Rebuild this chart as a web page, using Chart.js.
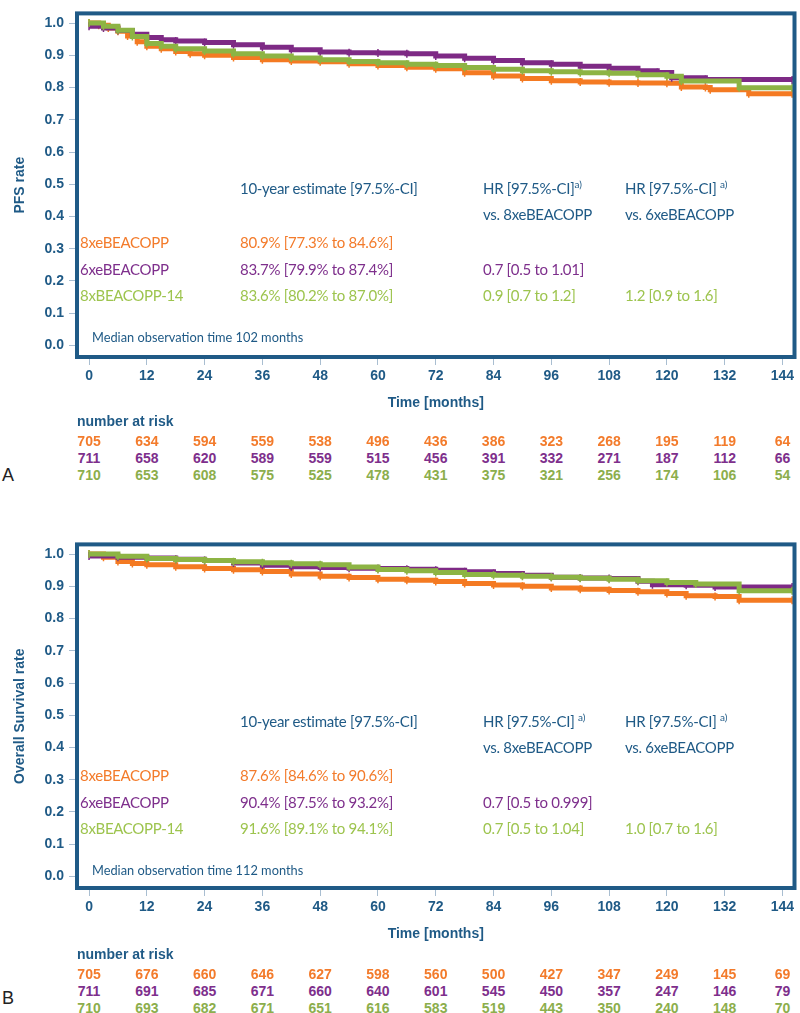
<!DOCTYPE html>
<html><head><meta charset="utf-8">
<script src="https://cdn.jsdelivr.net/npm/chart.js@4.4.0/dist/chart.umd.min.js"></script>
<style>
body{margin:0;width:800px;height:1013px;position:relative;background:#fff;overflow:hidden;font-family:"Liberation Sans",Arial,sans-serif}
canvas{position:absolute;left:0}
.t{position:absolute;white-space:nowrap;line-height:1;transform:translateY(-50%)}
.leg{font-family:Lato,"Open Sans",sans-serif;font-size:15px;letter-spacing:-0.3px}
.nr{font-weight:bold;font-size:14px;transform:translate(-50%,-50%)}
sup{font-size:10px;vertical-align:6px;line-height:0;letter-spacing:0}
</style></head><body>
<canvas id="c1" width="800" height="416" style="top:0"></canvas>
<canvas id="c2" width="800" height="416" style="top:531px"></canvas>
<script>
// ---------- data ----------
const xTicks = [0,12,24,36,48,60,72,84,96,108,120,132,144];
const yTicks = [0,0.1,0.2,0.3,0.4,0.5,0.6,0.7,0.8,0.9,1.0];
const seriesNames = ['8xeBEACOPP','6xeBEACOPP','8xBEACOPP-14'];
const seriesColors = ['#F47A22','#7E2A85','#8DB444'];
const textColors = ['#F37B2B','#7E2F8C','#9DC44E'];
const riskColors = ['#F37B2B','#7E2F8C','#8CAE4C'];

// PFS (panel A)
const pfsT8x = [0,2,4,6,8,10,12,15,18,21,24,30,36,42,48,54,60,66,72,78,84,90,96,102,108,114,120,123,128,129,137,146];
const pfsV8x = [1.0,0.993,0.985,0.975,0.96,0.942,0.928,0.92,0.912,0.905,0.9,0.893,0.886,0.882,0.88,0.874,0.868,0.863,0.858,0.846,0.836,0.828,0.821,0.817,0.815,0.814,0.813,0.802,0.8,0.793,0.781,0.781];
const pfsT6x = [0,3,6,9,12,15,18,24,30,36,42,48,54,60,66,72,78,84,90,96,102,108,114,118,121,128,146];
const pfsV6x = [0.99,0.985,0.977,0.965,0.955,0.948,0.944,0.94,0.933,0.925,0.917,0.91,0.908,0.907,0.905,0.898,0.891,0.884,0.877,0.872,0.866,0.86,0.852,0.847,0.83,0.825,0.823];
const pfsT14 = [0,3,6,9,12,15,18,24,30,36,42,48,54,60,66,72,78,84,90,96,102,108,114,120,123,135,146];
const pfsV14 = [1.0,0.99,0.978,0.958,0.937,0.928,0.92,0.913,0.905,0.898,0.892,0.886,0.881,0.877,0.872,0.868,0.862,0.857,0.852,0.849,0.846,0.844,0.84,0.835,0.82,0.799,0.799];

// OS (panel B)
const osT8x = [0,3,6,9,12,18,24,30,36,42,48,54,60,66,72,78,84,90,96,102,108,114,120,124,130,135,146];
const osV8x = [1.0,0.99,0.977,0.971,0.967,0.961,0.955,0.951,0.946,0.938,0.931,0.927,0.922,0.919,0.915,0.909,0.904,0.9,0.895,0.891,0.887,0.883,0.878,0.871,0.868,0.857,0.857];
const osT6x = [0,6,12,18,24,30,36,42,48,54,60,66,72,78,84,90,96,102,108,114,117,124,130,146];
const osV6x = [0.994,0.99,0.988,0.984,0.98,0.972,0.965,0.961,0.958,0.956,0.955,0.953,0.95,0.945,0.94,0.934,0.928,0.926,0.924,0.916,0.905,0.903,0.898,0.898];
const osT14 = [0,6,12,18,24,30,36,42,48,54,60,66,72,78,84,90,96,102,108,114,120,126,135,146];
const osV14 = [1.0,0.993,0.986,0.983,0.98,0.976,0.973,0.97,0.967,0.96,0.952,0.948,0.943,0.937,0.934,0.931,0.928,0.925,0.922,0.917,0.912,0.907,0.886,0.886];

// number at risk
const pfsRisk8x = [705,634,594,559,538,496,436,386,323,268,195,119,64];
const pfsRisk6x = [711,658,620,589,559,515,456,391,332,271,187,112,66];
const pfsRisk14 = [710,653,608,575,525,478,431,375,321,256,174,106,54];
const osRisk8x = [705,676,660,646,627,598,560,500,427,347,249,145,69];
const osRisk6x = [711,691,685,671,660,640,601,545,450,357,247,146,79];
const osRisk14 = [710,693,682,671,651,616,583,519,443,350,240,148,70];

// estimate table texts
const pfsEst = ['80.9% [77.3% to 84.6%]','83.7% [79.9% to 87.4%]','83.6% [80.2% to 87.0%]'];
const pfsHR8 = ['','0.7 [0.5 to 1.01]','0.9 [0.7 to 1.2]'];
const pfsHR6 = ['','','1.2 [0.9 to 1.6]'];
const osEst = ['87.6% [84.6% to 90.6%]','90.4% [87.5% to 93.2%]','91.6% [89.1% to 94.1%]'];
const osHR8 = ['','0.7 [0.5 to 0.999]','0.7 [0.5 to 1.04]'];
const osHR6 = ['','','1.0 [0.7 to 1.6]'];

// ---------- helpers ----------
const NAVY = '#1F5A86';
const TICKC = '#A9BED1';
function pts(t,v){return t.map((x,i)=>({x:x,y:v[i]}));}
function ds(label,t,v,i,order){
  return {label:label,data:pts(t,v),borderColor:seriesColors[i],backgroundColor:seriesColors[i],
    borderWidth:5,stepped:true,fill:false,order:order,
    pointStyle:'line',rotation:90,pointRadius:4,pointBorderWidth:1.5,pointBorderColor:seriesColors[i],pointHoverRadius:4};
}
const boxPlugin = {id:'box',afterDatasetsDraw(c){const a=c.chartArea,ctx=c.ctx;ctx.save();ctx.strokeStyle=NAVY;ctx.lineWidth=4;ctx.strokeRect(a.left,a.top,a.right-a.left,a.bottom-a.top);ctx.restore();}};

function makeChart(id,title,sets){
  return new Chart(document.getElementById(id),{
    type:'line',
    data:{datasets:sets},
    plugins:[boxPlugin],
    options:{
      responsive:false,animation:false,devicePixelRatio:1,
      layout:{padding:{left:8,right:3,top:2,bottom:0}},
      plugins:{legend:{display:false},tooltip:{enabled:false}},
      scales:{
        x:{type:'linear',min:-2.5,max:146.5,
          afterBuildTicks:s=>{s.ticks=xTicks.map(v=>({value:v}));},
          afterFit:s=>{s.height=59;},
          ticks:{color:NAVY,font:{family:'"Liberation Sans",Arial',size:14,weight:'bold'},padding:3,maxRotation:0,autoSkip:false},
          grid:{drawOnChartArea:false,drawTicks:true,tickLength:8,color:TICKC},
          border:{display:false},
          title:{display:true,text:'Time [months]',color:NAVY,font:{family:'"Liberation Sans",Arial',size:14,weight:'bold'},padding:{top:4,bottom:4}}
        },
        y:{min:-0.036,max:1.03,
          afterBuildTicks:s=>{s.ticks=yTicks.map(v=>({value:v}));},
          afterFit:s=>{s.width=69;},
          ticks:{color:NAVY,font:{family:'"Liberation Sans",Arial',size:14,weight:'bold'},padding:5,callback:v=>v.toFixed(1)},
          grid:{drawOnChartArea:false,drawTicks:true,tickLength:8,color:TICKC},
          border:{display:false},
          title:{display:true,text:title,color:NAVY,font:{family:'"Liberation Sans",Arial',size:14,weight:'bold'},padding:{top:4,bottom:4}}
        }
      }
    }
  });
}

const c1 = makeChart('c1','PFS rate',[
  ds(seriesNames[0],pfsT8x,pfsV8x,0,2),
  ds(seriesNames[1],pfsT6x,pfsV6x,1,1),
  ds(seriesNames[2],pfsT14,pfsV14,2,0)
]);
const c2 = makeChart('c2','Overall Survival rate',[
  ds(seriesNames[0],osT8x,osV8x,0,2),
  ds(seriesNames[1],osT6x,osV6x,1,1),
  ds(seriesNames[2],osT14,osV14,2,0)
]);

function addText(html,x,y,cls,color,extra){
  const d=document.createElement('div');d.className='t '+(cls||'');d.innerHTML=html;
  d.style.left=x+'px';d.style.top=y+'px';d.style.color=color;
  if(extra) Object.assign(d.style,extra);
  document.body.appendChild(d);return d;
}
function panel(chart,offY,est,hr8,hr6,risks,median,letter,letterY){
  addText('10-year estimate [97.5%-CI]',240,offY+188,'leg',NAVY);
  addText('HR [97.5%-CI]'+(offY?' ':'')+'<sup>a)</sup>',483,offY+188,'leg',NAVY);
  addText('HR [97.5%-CI] <sup>a)</sup>',625,offY+188,'leg',NAVY);
  addText('vs. 8xeBEACOPP',483,offY+214,'leg',NAVY);
  addText('vs. 6xeBEACOPP',625,offY+214,'leg',NAVY);
  const rowY=[242,269,295];
  for(let i=0;i<3;i++){
    addText(seriesNames[i],80,offY+rowY[i],'leg',textColors[i]);
    addText(est[i],240,offY+rowY[i],'leg',textColors[i]);
    if(hr8[i]) addText(hr8[i],483,offY+rowY[i],'leg',textColors[i]);
    if(hr6[i]) addText(hr6[i],625,offY+rowY[i],'leg',textColors[i]);
  }
  addText(median,92,offY+337,'leg',NAVY,{fontSize:'12.8px',letterSpacing:'0'});
  const top = offY;
  addText('number at risk',77,top+421,'',NAVY,{fontWeight:'bold',fontSize:'14px'});
  const ry=[441,458,475];
  for(let r=0;r<3;r++){
    for(let k=0;k<xTicks.length;k++){
      const px=chart.scales.x.getPixelForValue(xTicks[k]);
      addText(String(risks[r][k]),px,top+ry[r],'nr',riskColors[r]);
    }
  }
  addText(letter,2,letterY,'','#222',{fontSize:'18px'});
}
panel(c1,0,pfsEst,pfsHR8,pfsHR6,[pfsRisk8x,pfsRisk6x,pfsRisk14],'Median observation time 102 months','A',475);
panel(c2,533,osEst,osHR8,osHR6,[osRisk8x,osRisk6x,osRisk14],'Median observation time 112 months','B',998);
</script>
</body></html>
